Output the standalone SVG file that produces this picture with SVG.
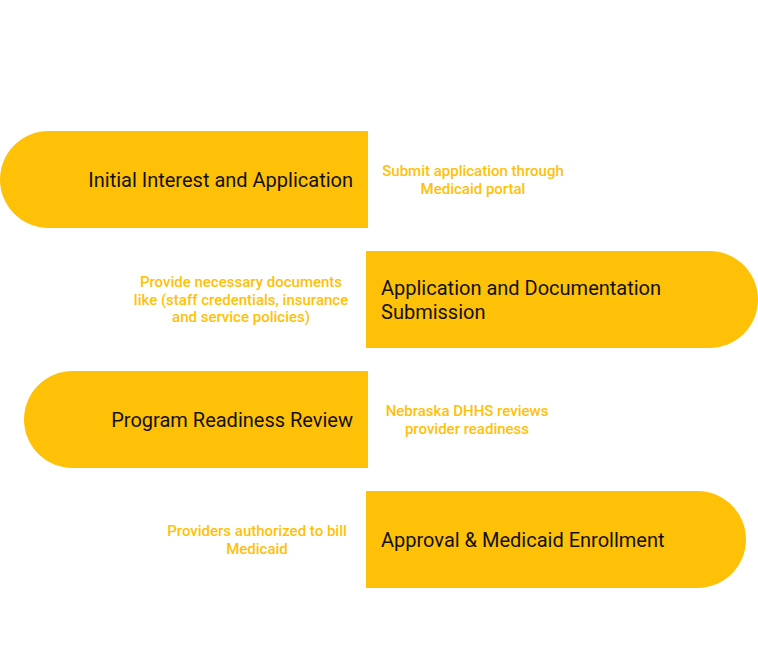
<svg xmlns="http://www.w3.org/2000/svg" width="758" height="660" viewBox="0 0 758 660">
<style>
.bar{fill:#FFC107;}
.t{font-family:Roboto,"Liberation Sans",sans-serif;font-size:20px;fill:#111111;}
.a{font-family:Roboto,"Liberation Sans",sans-serif;font-size:15px;font-weight:500;fill:#FFC107;text-anchor:middle;}
</style>
<rect width="758" height="660" fill="#ffffff"/>
<g id="step1">
<path class="bar" d="M368,131 L48.5,131 A48.5,48.5 0 0 0 48.5,228 L368,228 Z"/>
<text class="t" x="353" y="186.5" text-anchor="end">Initial Interest and Application</text>
</g>
<g id="note1">
<text class="a" x="473" y="176">Submit application through</text>
<text class="a" x="473" y="193.5">Medicaid portal</text>
</g>
<g id="step2">
<path class="bar" d="M366,251 L709.5,251 A48.5,48.5 0 0 1 709.5,348 L366,348 Z"/>
<text class="t" x="381" y="294.5">Application and Documentation</text>
<text class="t" x="381" y="318.5">Submission</text>
</g>
<g id="note2">
<text class="a" x="241" y="287">Provide necessary documents</text>
<text class="a" x="241" y="304.5">like (staff credentials, insurance</text>
<text class="a" x="241" y="322">and service policies)</text>
</g>
<g id="step3">
<path class="bar" d="M368,371 L72.5,371 A48.5,48.5 0 0 0 72.5,468 L368,468 Z"/>
<text class="t" x="353" y="426.5" text-anchor="end">Program Readiness Review</text>
</g>
<g id="note3">
<text class="a" x="467" y="416">Nebraska DHHS reviews</text>
<text class="a" x="467" y="433.5">provider readiness</text>
</g>
<g id="step4">
<path class="bar" d="M366,491 L697.5,491 A48.5,48.5 0 0 1 697.5,588 L366,588 Z"/>
<text class="t" x="381" y="546.5">Approval &amp; Medicaid Enrollment</text>
</g>
<g id="note4">
<text class="a" x="257" y="536">Providers authorized to bill</text>
<text class="a" x="257" y="553.5">Medicaid</text>
</g>
<g id="connectors"></g>
</svg>
